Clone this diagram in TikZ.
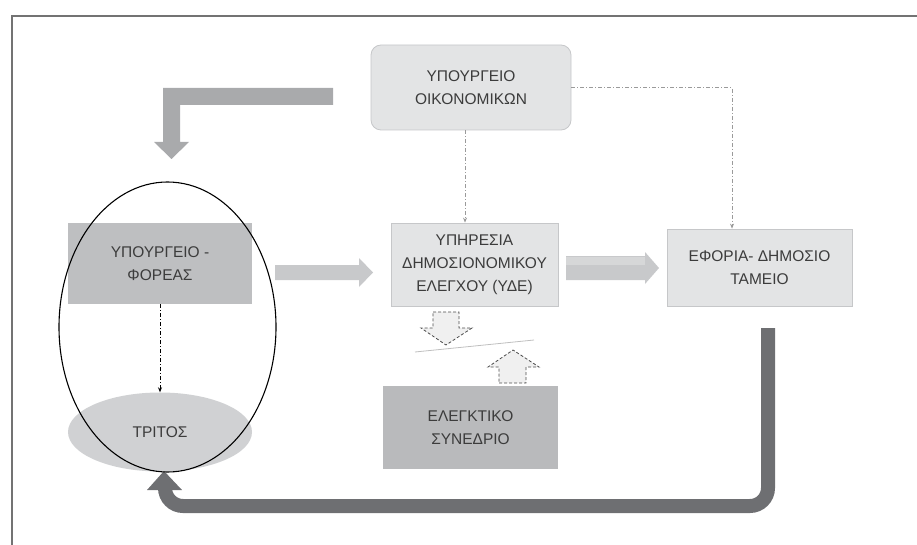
\documentclass[tikz,border=0pt]{standalone}
\usepackage{fontspec}
\setmainfont{Liberation Sans}
\usetikzlibrary{calc,shapes.geometric,arrows.meta}
\definecolor{boxlight}{HTML}{E3E4E5}
\definecolor{boxborder}{HTML}{C6C7C9}
\definecolor{boxmid}{HTML}{BEBFC1}
\definecolor{boxdark}{HTML}{B9BABC}
\definecolor{thirdfill}{HTML}{D0D1D3}
\definecolor{arrowgrey}{HTML}{A9AAAC}
\definecolor{arrowlight}{HTML}{C8C9CB}
\definecolor{arrowlighter}{HTML}{D6D7D8}
\definecolor{arrowdark}{HTML}{6E6F72}
\definecolor{txt}{HTML}{3C3C3C}
\definecolor{dashgrey}{HTML}{9A9A9A}
\tikzset{
  lbl/.style={font=\fontsize{15.5}{23}\selectfont, text=txt, align=center, inner sep=0pt},
  lightbox/.style={lbl, rectangle, fill=boxlight, draw=boxborder, line width=0.8pt},
  midbox/.style={lbl, rectangle, fill=boxmid, draw=none},
  darkbox/.style={lbl, rectangle, fill=boxdark, draw=none},
  dashdot/.style={dash pattern=on 4pt off 2pt on 1pt off 2pt, line width=0.7pt},
  smalltip/.style={-{Stealth[length=5pt,width=4pt]}},
  dashblock/.style={draw=black!70, dash pattern=on 3pt off 2pt, line width=0.8pt, fill=black!6}
}
\begin{document}
\begin{tikzpicture}[x=1pt,y=-1pt]
\useasboundingbox (0,0) rectangle (917,545);
% frame
\draw[black!55, line width=2pt] (12,545) -- (12,16) -- (917,16);

% nodes
\node[lightbox, rounded corners=10pt, minimum width=200pt, minimum height=85pt] (uo) at (471,87.5) {ΥΠΟΥΡΓΕΙΟ\\ΟΙΚΟΝΟΜΙΚΩΝ};
\node[midbox, minimum width=184pt, minimum height=81pt] (fo) at (160,263.5) {ΥΠΟΥΡΓΕΙΟ -\\ΦΟΡΕΑΣ};
\node[lightbox, minimum width=167pt, minimum height=83pt] (yde) at (474.5,264.5) {ΥΠΗΡΕΣΙΑ\\ΔΗΜΟΣΙΟΝΟΜΙΚΟΥ\\ΕΛΕΓΧΟΥ (ΥΔΕ)};
\node[lightbox, minimum width=185pt, minimum height=77pt] (ef) at (759.5,267.5) {ΕΦΟΡΙΑ- ΔΗΜΟΣΙΟ\\ΤΑΜΕΙΟ};
\node[darkbox, minimum width=175pt, minimum height=83pt] (es) at (470.5,427.5) {ΕΛΕΓΚΤΙΚΟ\\ΣΥΝΕΔΡΙΟ};
\node[lbl, ellipse, fill=thirdfill, minimum width=184pt, minimum height=79pt] (tr) at (160,432) {ΤΡΙΤΟΣ};

% dash-dot connectors
\coordinate (uoout) at ($(uo.south)+(-6,0)$);
\coordinate (efin) at ($(ef.north)+(-27.5,0)$);
\draw[dashdot, dashgrey, smalltip] (uo.east) -| (efin);
\draw[dashdot, dashgrey, smalltip] (uoout) -- (uoout |- yde.north);
\draw[dashdot, black, smalltip] (fo.south) -- (tr.north);

% top-left bent block arrow
\fill[arrowgrey] (333,88) -- (163,88) -- (163,142) -- (154,142) -- (171.5,159) -- (189,142) -- (180,142) -- (180,105) -- (333,105) -- cycle;

% block arrow left box -> YDE
\fill[arrowlight] (275,265) -- (359,265) -- (359,258) -- (373,272.5) -- (359,287) -- (359,280) -- (275,280) -- cycle;

% block arrow YDE -> Eforia
\fill[arrowlight] (566,256) -- (645,256) -- (645,252) -- (659,268) -- (645,284) -- (645,280) -- (566,280) -- cycle;
\fill[arrowlighter] (566,257) rectangle (645,265);

% dashed block arrows between YDE and Elegktiko
\draw[dashblock] (433,312) -- (459,312) -- (459,328) -- (472,328) -- (446,345) -- (421,328) -- (433,328) -- cycle;
\draw[dashblock] (499,383) -- (526,383) -- (526,367) -- (539,367) -- (513,350) -- (488,367) -- (499,367) -- cycle;
\draw[black!25, line width=0.8pt] (415,352) -- (534,340);

% dark return arrow
\draw[arrowdark, line width=14pt, rounded corners=18pt] (768,328) -- (768,506) -- (165,506) -- (165,486);
\fill[arrowdark] (147,490) -- (164,471) -- (182,490) -- cycle;

% big ellipse
\node[ellipse, draw=black, line width=1.1pt, minimum width=217pt, minimum height=290pt, inner sep=0pt] (grp) at (167.5,327) {};
\end{tikzpicture}
\end{document}
